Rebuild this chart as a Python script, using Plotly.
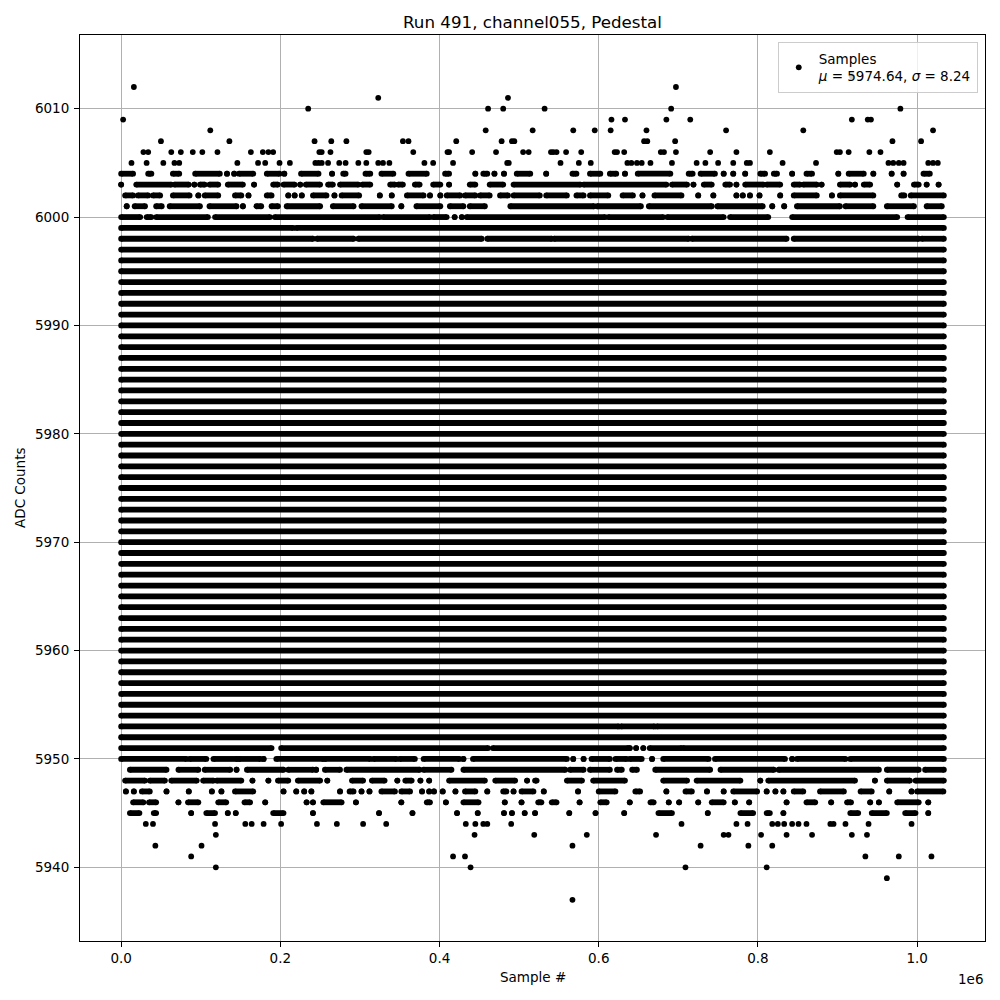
import plotly.graph_objects as go

# ---------------- data ----------------
# sample positions are given in thousands of samples
first_sample_k = 0.0
last_sample_k = 1033.6

# ADC levels whose band is solid over the whole run
full_levels = [5952, 5954, 5955, 5956, 5957, 5958, 5959, 5960, 5961, 5962, 5963,
               5964, 5965, 5966, 5967, 5968, 5969, 5970, 5971, 5972, 5973, 5974,
               5975, 5976, 5977, 5978, 5979, 5980, 5981, 5982, 5983, 5984, 5985,
               5986, 5987, 5988, 5989, 5990, 5991, 5992, 5993, 5994, 5995, 5996,
               5997]

# isolated samples per ADC level (sample #, thousands)
hits_6013 = [918]
hits_6012 = [16, 697]
hits_6011 = [323, 486]
hits_6010 = [235, 461, 480, 532, 691, 979]
hits_6009 = [2.5, 616, 633, 685, 715, 918, 938, 942]
hits_6008 = [112, 458, 517, 568, 595, 615, 660, 760, 857, 1020]
hits_6007 = [50, 136, 243, 264, 283, 354, 361, 421, 478, 491, 494, 657, 661, 696,
             969, 1005]
hits_6006 = [28, 34, 63, 75, 90, 102, 121, 163, 178, 185, 191, 249, 252, 263, 308,
             311, 367, 410, 412, 441, 471, 505, 512, 540, 543, 547, 559, 578, 620,
             623, 632, 678, 682, 697, 740, 773, 815, 899, 903, 914, 940, 954]
hits_6005 = [13, 32, 53, 67, 73, 146, 172, 181, 199, 212, 244, 248, 252, 260, 274,
             282, 298, 308, 323, 329, 337, 381, 392, 417, 485, 487, 552, 575, 590,
             636, 641, 648, 654, 665, 692, 723, 734, 750, 769, 786, 790, 831, 873,
             964, 970, 977, 983, 1014, 1020, 1026]
hits_5944 = [31, 40, 118, 156, 164, 179, 201, 246, 271, 304, 333, 433, 445, 455,
             460, 490, 704, 773, 787, 818, 825, 833, 843, 851, 861, 891, 895, 910,
             939, 993]
hits_5943 = [119, 444, 519, 585, 672, 757, 763, 804, 836, 868, 918, 937]
hits_5942 = [43, 101, 567, 728, 788, 818]
hits_5941 = [88, 417, 432, 935, 977, 1018]
hits_5940 = [119, 439, 709, 811]
hits_5939 = [962]
hits_5937 = [567]

# runs of consecutive samples per ADC level: (first, last) in thousands
runs_6004 = [(0, 15), (34, 38), (65, 73), (93, 124), (133, 133), (142, 142),
             (148, 166), (183, 199), (205, 205), (226, 248), (265, 265), (279, 282),
             (307, 313), (327, 342), (361, 384), (407, 412), (445, 445), (455, 460),
             (469, 469), (481, 481), (497, 514), (534, 534), (567, 572), (589, 602),
             (614, 622), (633, 633), (649, 690), (713, 718), (728, 746), (757, 757),
             (769, 769), (784, 784), (803, 809), (820, 824), (843, 843), (861, 868),
             (901, 901), (914, 933), (945, 945), (968, 968), (983, 983), (1008, 1016)]
runs_6003 = [(0, 0), (19, 63), (67, 85), (92, 92), (99, 105), (111, 122), (134, 153),
             (167, 167), (191, 197), (204, 218), (225, 225), (232, 250), (260, 266),
             (275, 298), (303, 313), (338, 344), (348, 354), (369, 375), (392, 401),
             (412, 412), (438, 445), (463, 480), (493, 577), (581, 685), (692, 711),
             (719, 719), (732, 742), (759, 765), (773, 773), (784, 807), (811, 828),
             (845, 853), (857, 874), (880, 880), (903, 916), (922, 922), (933, 941),
             (975, 975), (996, 1002), (1012, 1012), (1027, 1027)]
runs_6002 = [(5, 15), (21, 34), (40, 49), (65, 86), (97, 97), (105, 122), (143, 151),
             (160, 160), (183, 189), (210, 210), (218, 218), (227, 227), (241, 258),
             (268, 268), (277, 299), (325, 325), (340, 340), (359, 380), (388, 388),
             (401, 401), (409, 426), (432, 445), (451, 463), (476, 486), (493, 526),
             (534, 560), (572, 581), (589, 612), (630, 643), (655, 655), (670, 704),
             (725, 725), (744, 744), (773, 773), (781, 781), (790, 790), (802, 802),
             (828, 828), (845, 874), (893, 893), (903, 945), (980, 984), (992, 1033.6)]
runs_6001 = [(7, 7), (17, 30), (44, 51), (61, 99), (111, 145), (153, 153), (170, 176),
             (189, 197), (208, 250), (266, 292), (302, 340), (352, 352), (371, 401),
             (413, 430), (438, 457), (489, 594), (598, 653), (663, 742), (749, 806),
             (818, 818), (833, 833), (849, 903), (910, 945), (962, 996), (1012, 1031)]
runs_6000 = [(0, 24), (32, 38), (44, 109), (118, 187), (193, 325), (329, 388),
             (392, 409), (419, 419), (428, 428), (434, 608), (612, 681), (686, 757),
             (765, 813), (843, 975), (988, 1033.6)]
runs_5999 = [(0, 216), (220, 1033.6)]
runs_5998 = [(0, 241), (246, 292), (298, 453), (460, 541), (544, 713), (717, 836),
             (845, 1002), (1006, 1033.6)]
runs_5953 = [(0, 625), (628, 670), (673, 1033.6)]
runs_5951 = [(0, 189), (201, 461), (467, 637), (639, 639), (647, 647), (656, 656),
             (664, 704), (706, 1033.6)]
runs_5950 = [(0, 82), (86, 107), (116, 146), (148, 175), (179, 179), (195, 254),
             (256, 313), (317, 346), (350, 369), (380, 425), (430, 430), (442, 560),
             (568, 568), (581, 581), (591, 614), (621, 635), (639, 654), (667, 667),
             (681, 738), (746, 834), (843, 843), (849, 910), (916, 1033.6)]
runs_5949 = [(11, 57), (72, 97), (105, 137), (145, 145), (158, 204), (210, 241),
             (245, 245), (256, 275), (283, 375), (380, 415), (430, 558), (564, 581),
             (589, 614), (623, 629), (642, 648), (671, 740), (753, 820), (826, 952),
             (962, 1002), (1010, 1033.6)]
runs_5948 = [(5, 30), (36, 55), (63, 95), (103, 116), (120, 151), (165, 165),
             (185, 185), (197, 210), (222, 250), (259, 259), (290, 304), (315, 331),
             (347, 347), (357, 365), (376, 376), (387, 387), (412, 457), (470, 495),
             (510, 510), (520, 522), (560, 579), (593, 633), (681, 711), (723, 778),
             (803, 803), (813, 922), (947, 947), (962, 991), (998, 1033.6)]
runs_5947 = [(6, 6), (16, 16), (26, 36), (57, 57), (85, 85), (114, 114), (126, 126),
             (143, 166), (204, 204), (220, 220), (230, 230), (239, 239), (275, 275),
             (287, 292), (302, 302), (312, 312), (327, 344), (352, 363), (378, 378),
             (387, 387), (393, 393), (404, 404), (420, 420), (432, 445), (460, 460),
             (480, 484), (493, 493), (503, 518), (531, 531), (574, 574), (600, 621),
             (646, 652), (685, 685), (709, 717), (736, 736), (757, 757), (769, 799),
             (811, 811), (822, 822), (832, 832), (845, 857), (878, 908), (929, 943),
             (965, 965), (993, 993), (1000, 1033)]
runs_5946 = [(15, 28), (35, 44), (72, 72), (84, 97), (122, 132), (155, 162),
             (181, 181), (233, 233), (241, 241), (254, 277), (295, 295), (352, 352),
             (384, 388), (408, 408), (430, 449), (482, 482), (503, 503), (524, 528),
             (541, 547), (576, 576), (602, 610), (639, 639), (665, 669), (688, 688),
             (701, 701), (725, 725), (742, 757), (771, 771), (789, 789), (836, 836),
             (861, 872), (892, 892), (912, 917), (941, 941), (952, 952), (975, 1002),
             (1014, 1014)]
runs_5945 = [(11, 23), (41, 44), (88, 88), (107, 118), (134, 134), (144, 144),
             (191, 204), (241, 241), (324, 324), (366, 366), (422, 422), (448, 448),
             (481, 481), (491, 491), (507, 507), (520, 520), (563, 563), (596, 596),
             (632, 632), (675, 692), (737, 737), (778, 794), (811, 815), (832, 832),
             (916, 926), (943, 962), (985, 998), (1014, 1014)]

x_tick_vals = [0, 200000, 400000, 600000, 800000, 1000000]
x_tick_text = ["0.0", "0.2", "0.4", "0.6", "0.8", "1.0"]
y_tick_vals = [5940, 5950, 5960, 5970, 5980, 5990, 6000, 6010]

title_text = "Run 491, channel055, Pedestal"
legend_text = "Samples<br><i>μ</i> = 5974.64, <i>σ</i> = 8.24"

# ---------------- assemble ----------------
hit_sets = [(6013, hits_6013), (6012, hits_6012), (6011, hits_6011),
            (6010, hits_6010), (6009, hits_6009), (6008, hits_6008),
            (6007, hits_6007), (6006, hits_6006), (6005, hits_6005),
            (5944, hits_5944), (5943, hits_5943), (5942, hits_5942),
            (5941, hits_5941), (5940, hits_5940), (5939, hits_5939),
            (5937, hits_5937)]
run_sets = [(6004, runs_6004), (6003, runs_6003), (6002, runs_6002),
            (6001, runs_6001), (6000, runs_6000), (5999, runs_5999),
            (5998, runs_5998), (5953, runs_5953), (5951, runs_5951),
            (5950, runs_5950), (5949, runs_5949), (5948, runs_5948),
            (5947, runs_5947), (5946, runs_5946), (5945, runs_5945)]
run_sets += [(lv, [(first_sample_k, last_sample_k)]) for lv in full_levels]

px, py = [], []
for lv, xs in hit_sets:
    for v in xs:
        px.append(v * 1000)
        py.append(lv)

rx, ry = [], []
for lv, runs in run_sets:
    for a, b in runs:
        rx += [a * 1000, b * 1000, None]
        ry += [lv, lv, None]

MS = 5.8
fig = go.Figure()
fig.add_trace(go.Scatter(x=rx, y=ry, mode="lines+markers",
                         line=dict(color="black", width=MS),
                         marker=dict(color="black", size=MS),
                         showlegend=False, hoverinfo="skip"))
fig.add_trace(go.Scatter(x=px, y=py, mode="markers", name=legend_text,
                         marker=dict(color="black", size=MS), showlegend=True))

font = "DejaVu Sans, Arial, sans-serif"
axis_common = dict(showline=True, mirror=True, linecolor="black", linewidth=1,
                   ticks="outside", ticklen=5, tickwidth=1, tickcolor="black",
                   showgrid=True, gridcolor="#b0b0b0", gridwidth=1, zeroline=False,
                   tickfont=dict(family=font, size=13.5, color="black"))

# the page body has an 8 px margin, so the figure is 992 px and offsets shrink by 8
W = H = 992
fig.update_layout(
    width=W, height=H,
    margin=dict(l=72, r=15, t=27, b=59),
    plot_bgcolor="white", paper_bgcolor="white",
    title=dict(text=title_text, x=0.5, xref="paper", xanchor="center",
               y=1 - 14 / H, yref="container", yanchor="middle",
               font=dict(family=font, size=16.7, color="black")),
    xaxis=dict(range=[-51680, 1085280], tickvals=x_tick_vals, ticktext=x_tick_text,
               **axis_common),
    yaxis=dict(range=[5933.2, 6016.8], tickvals=y_tick_vals, ticklabelstandoff=2,
               **axis_common),
    legend=dict(x=0.992, y=0.992, xanchor="right", yanchor="top",
                bgcolor="rgba(255,255,255,0.8)", bordercolor="#cccccc", borderwidth=1,
                font=dict(family=font, size=13.5, color="black")),
    annotations=[
        dict(text="Sample #", xref="paper", yref="paper", x=0.5, y=-0.0397,
             xanchor="center", yanchor="middle", showarrow=False,
             font=dict(family=font, size=13.5, color="black")),
        dict(text="ADC Counts", xref="paper", yref="paper", x=-0.0663, y=0.5,
             xanchor="center", yanchor="middle", textangle=-90, showarrow=False,
             font=dict(family=font, size=13.5, color="black")),
        dict(text="1e6", xref="paper", yref="paper", x=1.0, y=-0.031,
             xanchor="right", yanchor="top", showarrow=False,
             font=dict(family=font, size=13.5, color="black")),
    ],
)

fig.write_html("out.html")
